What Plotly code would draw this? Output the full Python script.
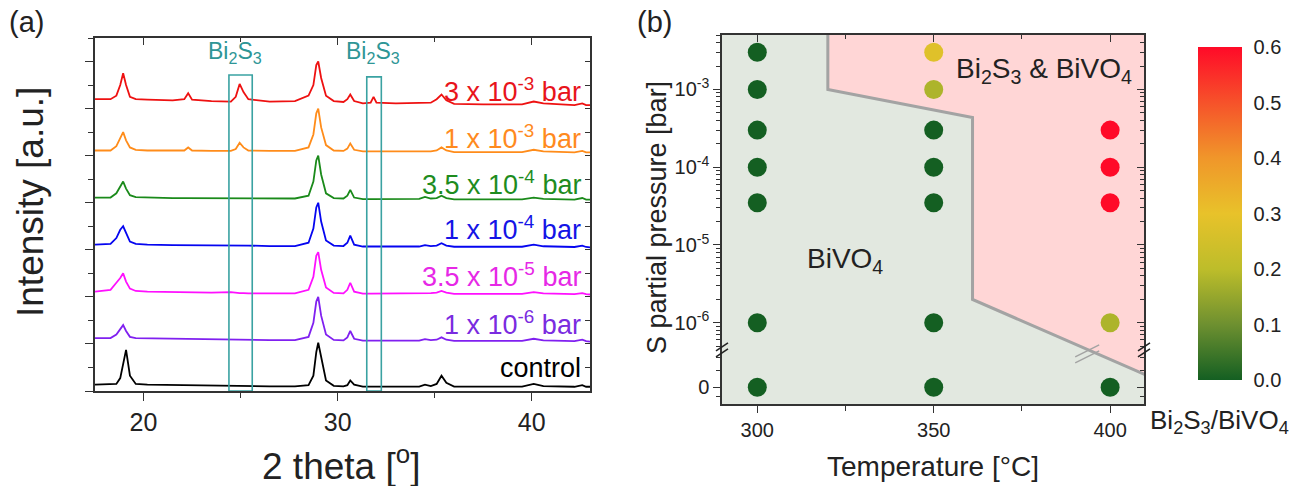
import math
import plotly.graph_objects as go

# ---------------- Panel (a): XRD patterns ----------------
two_theta = [17.5, 18.3, 18.6, 18.8, 18.95, 19.1, 19.3, 19.6, 20.2, 21.5, 22.1, 22.3, 22.5,
             23.5, 24.5, 24.75, 24.95, 25.15, 25.4, 26.5, 27.8, 28.5, 28.75, 28.9, 29.0,
             29.15, 29.4, 29.8, 30.3, 30.5, 30.65, 30.85, 31.3, 31.7, 31.85, 32.0, 33.0,
             34.2, 34.5, 34.8, 35.1, 35.35, 35.6, 36.0, 37.5, 39.5, 40.1, 40.6, 42.2,
             42.6, 42.8, 43.0]

int_3e3 = [0.3, 0.3, 0.45, 0.9, 1.4, 0.9, 0.4, 0.3, 0.28, 0.25, 0.3, 0.55, 0.28, 0.22, 0.2,
           0.4, 0.95, 0.6, 0.3, 0.2, 0.22, 0.45, 0.9, 1.75, 1.9, 1.2, 0.45, 0.22, 0.18, 0.3,
           0.5, 0.22, 0.12, 0.15, 0.4, 0.15, 0.12, 0.12, 0.14, 0.15, 0.3, 0.5, 0.25, 0.1,
           0.08, 0.08, 0.2, 0.12, 0.05, 0.12, 0.05, 0.05]
int_1e3 = [0.12, 0.12, 0.3, 0.65, 0.9, 0.55, 0.25, 0.15, 0.12, 0.12, 0.12, 0.25, 0.12, 0.1,
           0.1, 0.18, 0.45, 0.25, 0.12, 0.1, 0.1, 0.25, 0.8, 1.7, 1.9, 1.1, 0.35, 0.12, 0.1,
           0.2, 0.42, 0.15, 0.08, 0.08, 0.08, 0.08, 0.06, 0.06, 0.07, 0.08, 0.12, 0.25, 0.12,
           0.05, 0.05, 0.05, 0.15, 0.08, 0.04, 0.1, 0.04, 0.04]
int_35e4 = [0.12, 0.12, 0.3, 0.6, 0.8, 0.5, 0.22, 0.14, 0.12, 0.1, 0.1, 0.1, 0.1, 0.1, 0.1,
            0.1, 0.1, 0.1, 0.1, 0.08, 0.08, 0.2, 0.8, 1.7, 1.9, 1.1, 0.3, 0.1, 0.08, 0.2,
            0.45, 0.12, 0.05, 0.05, 0.05, 0.05, 0.05, 0.06, 0.15, 0.08, 0.1, 0.2, 0.1, 0.04,
            0.04, 0.04, 0.12, 0.06, 0.03, 0.1, 0.03, 0.03]
int_1e4 = [0.12, 0.15, 0.4, 0.75, 0.9, 0.6, 0.25, 0.15, 0.12, 0.1, 0.1, 0.1, 0.1, 0.08, 0.08,
           0.08, 0.08, 0.08, 0.08, 0.06, 0.06, 0.2, 0.8, 1.7, 1.9, 1.1, 0.3, 0.08, 0.06, 0.2,
           0.5, 0.12, 0.04, 0.04, 0.04, 0.04, 0.03, 0.04, 0.1, 0.06, 0.08, 0.18, 0.08, 0.03,
           0.03, 0.03, 0.12, 0.05, 0.02, 0.08, 0.02, 0.0]
int_35e5 = [0.12, 0.2, 0.5, 0.7, 0.9, 0.55, 0.25, 0.15, 0.12, 0.1, 0.1, 0.1, 0.1, 0.08, 0.1,
            0.07, 0.06, 0.06, 0.05, 0.05, 0.05, 0.2, 0.75, 1.65, 1.8, 1.05, 0.3, 0.07, 0.05,
            0.2, 0.5, 0.12, 0.04, 0.04, 0.04, 0.04, 0.03, 0.04, 0.06, 0.06, 0.08, 0.15, 0.08,
            0.03, 0.03, 0.03, 0.1, 0.05, 0.02, 0.06, 0.02, 0.0]
int_1e6 = [0.15, 0.15, 0.3, 0.5, 0.7, 0.45, 0.2, 0.15, 0.14, 0.13, 0.13, 0.12, 0.12, 0.1,
           0.08, 0.08, 0.08, 0.07, 0.07, 0.06, 0.06, 0.2, 0.8, 1.7, 1.9, 1.1, 0.3, 0.07, 0.05,
           0.18, 0.45, 0.12, 0.04, 0.04, 0.04, 0.04, 0.03, 0.04, 0.1, 0.06, 0.08, 0.18, 0.08,
           0.03, 0.03, 0.03, 0.12, 0.05, 0.02, 0.08, 0.02, 0.0]
int_control = [0.12, 0.12, 0.15, 0.4, 1.0, 1.6, 0.5, 0.15, 0.12, 0.1, 0.1, 0.1, 0.1, 0.08,
               0.06, 0.06, 0.06, 0.06, 0.06, 0.05, 0.05, 0.1, 0.5, 1.5, 1.9, 1.3, 0.3, 0.07,
               0.05, 0.1, 0.3, 0.12, 0.04, 0.04, 0.04, 0.04, 0.03, 0.04, 0.12, 0.06, 0.15, 0.5,
               0.2, 0.04, 0.04, 0.04, 0.15, 0.06, 0.03, 0.1, 0.03, 0.03]

series_labels = ["3 x 10<sup>-3</sup> bar", "1 x 10<sup>-3</sup> bar", "3.5 x 10<sup>-4</sup> bar",
                 "1 x 10<sup>-4</sup> bar", "3.5 x 10<sup>-5</sup> bar", "1 x 10<sup>-6</sup> bar",
                 "control"]
series_data = [int_3e3, int_1e3, int_35e4, int_1e4, int_35e5, int_1e6, int_control]
series_offsets = [12.1, 10.1, 8.1, 6.1, 4.1, 2.1, 0.15]
series_label_y = [12.8, 10.8, 8.84, 6.93, 4.93, 2.89, 0.98]
line_colors = ["#EE1111", "#FF8C1A", "#1A8A1A", "#0505F0", "#FF10FF", "#8020F0", "#000000"]
label_colors = ["#E8141B", "#FF8A1E", "#1E8C1E", "#1414E6", "#E628E6", "#7A2BE0", "#000000"]

bi2s3_boxes = [(24.4, 25.6, 13.43), (31.5, 32.25, 13.35)]   # x0, x1, top
bi2s3_label_x = [24.7, 31.83]
bi2s3_label_y = 14.4

# ---------------- Panel (b): phase map ----------------
temps = [300, 300, 300, 300, 300, 300, 300,
         350, 350, 350, 350, 350, 350, 350,
         400, 400, 400, 400, 400]
pressures = [3e-3, 1e-3, 3e-4, 1e-4, 3.5e-5, 1e-6, 0,
             3e-3, 1e-3, 3e-4, 1e-4, 3.5e-5, 1e-6, 0,
             3e-4, 1e-4, 3.5e-5, 1e-6, 0]
ratio = [0, 0, 0, 0, 0, 0, 0,
         0.28, 0.18, 0, 0, 0, 0, 0,
         0.6, 0.6, 0.6, 0.18, 0]

ZERO_POS = -6.83      # axis position used for p = 0 (below the axis break)
BREAK_POS = -6.35     # location of the axis break
Y2_RANGE = [-7.045, -2.30]
X2_RANGE = [290, 409.6]

def pos(p):
    return math.log10(p) if p > 0 else ZERO_POS

boundary_T = [320, 320, 361, 361, 410]
boundary_y = [-2.30, -3.0, -3.36, -5.70, -6.67]

colorscale = [[0.0, "#145F22"], [0.167, "#6E9030"], [0.333, "#BDBD2A"], [0.5, "#E8C22A"],
              [0.667, "#F0962A"], [0.833, "#F6522A"], [1.0, "#FF0A28"]]

W, H = 1305, 486
FONT = "Arial, Liberation Sans, sans-serif"

fig = go.Figure()

for vals, off, col in zip(series_data, series_offsets, line_colors):
    fig.add_trace(go.Scatter(x=two_theta, y=[v + off for v in vals], mode="lines",
                             line=dict(color=col, width=1.8), xaxis="x", yaxis="y",
                             showlegend=False, hoverinfo="skip"))
# dummy traces for mirrored (inside-tick) axes
fig.add_trace(go.Scatter(x=[None], y=[None], xaxis="x3", yaxis="y", showlegend=False))
fig.add_trace(go.Scatter(x=[None], y=[None], xaxis="x", yaxis="y3", showlegend=False))
fig.add_trace(go.Scatter(x=[None], y=[None], xaxis="x4", yaxis="y2", showlegend=False))
fig.add_trace(go.Scatter(x=[None], y=[None], xaxis="x2", yaxis="y4", showlegend=False))

# pink two-phase region
fig.add_trace(go.Scatter(x=boundary_T + [boundary_T[-1], boundary_T[0]],
                         y=boundary_y + [Y2_RANGE[1] + 0.1, Y2_RANGE[1] + 0.1],
                         fill="toself", fillcolor="#FFD6D6", mode="none",
                         xaxis="x2", yaxis="y2", showlegend=False, hoverinfo="skip"))
fig.add_trace(go.Scatter(x=boundary_T, y=boundary_y, mode="lines",
                         line=dict(color="#A3A3A3", width=3),
                         xaxis="x2", yaxis="y2", showlegend=False, hoverinfo="skip"))
fig.add_trace(go.Scatter(
    x=temps, y=[pos(p) for p in pressures], mode="markers", xaxis="x2", yaxis="y2",
    showlegend=False,
    marker=dict(size=19, color=ratio, colorscale=colorscale, cmin=0, cmax=0.6,
                line=dict(width=0),
                colorbar=dict(thickness=44, len=353, lenmode="pixels",
                              x=1188 / W, xanchor="left", y=1 - 213.5 / H, yanchor="middle",
                              outlinewidth=0, tickvals=[0, 0.1, 0.2, 0.3, 0.4, 0.5, 0.6],
                              ticktext=["0.0", "0.1", "0.2", "0.3", "0.4", "0.5", "0.6"],
                              ticks="outside", ticklen=8, tickcolor="rgba(0,0,0,0)",
                              tickfont=dict(size=20, color="#222", family=FONT)))))

axis_common = dict(showgrid=False, zeroline=False, linecolor="#333", linewidth=1.5,
                   tickcolor="#333", tickwidth=1.2)

dom_x1 = [95 / W, 590 / W]
dom_y1 = [1 - 391 / H, 1 - 38 / H]
dom_x2 = [722 / W, 1144 / W]
dom_y2 = [1 - 404 / H, 1 - 35 / H]

minor_logs = []
for d in range(-7, -2):
    for k in range(2, 10):
        v = d + math.log10(k)
        if BREAK_POS < v < Y2_RANGE[1]:
            minor_logs.append(v)
minor_logs += [ZERO_POS + 0.22, ZERO_POS + 0.38, ZERO_POS - 0.12]

y2_ticks = dict(tickvals=[-3, -4, -5, -6, ZERO_POS],
                ticktext=["10<sup>-3</sup>", "10<sup>-4</sup>", "10<sup>-5</sup>",
                          "10<sup>-6</sup>", "0"])

fig.update_layout(
    width=W, height=H, autosize=False,
    margin=dict(l=0, r=0, t=0, b=0),
    paper_bgcolor="white", plot_bgcolor="rgba(0,0,0,0)",
    font=dict(family=FONT, color="#222"),
    xaxis=dict(domain=dom_x1, anchor="y", range=[17.5, 43], tickvals=[20, 30, 40],
               ticks="outside", ticklen=8, showline=True,
               tickfont=dict(size=25, color="#222"),
               minor=dict(tickvals=[25, 35], ticks="outside", ticklen=5, tickcolor="#333"),
               **axis_common),
    yaxis=dict(domain=dom_y1, anchor="x", range=[0, 15], tickvals=list(range(0, 16, 2)),
               ticks="outside", ticklen=8, showline=True, showticklabels=False,
               minor=dict(tickvals=list(range(1, 16, 2)), ticks="outside", ticklen=5,
                          tickcolor="#333"),
               **axis_common),
    xaxis3=dict(overlaying="x", side="top", anchor="y", range=[17.5, 43],
                tickvals=[20, 30, 40], ticks="inside", ticklen=7, showline=True,
                showticklabels=False,
                minor=dict(tickvals=[25, 35], ticks="inside", ticklen=4, tickcolor="#333"),
                **axis_common),
    yaxis3=dict(overlaying="y", side="right", anchor="x", range=[0, 15],
                tickvals=list(range(0, 16)), ticks="inside", ticklen=5, showline=True,
                showticklabels=False, **axis_common),
    xaxis2=dict(domain=dom_x2, anchor="y2", range=X2_RANGE, tickvals=[300, 350, 400],
                ticks="outside", ticklen=7, showline=True,
                tickfont=dict(size=20, color="#222"),
                minor=dict(tickvals=[325, 375], ticks="outside", ticklen=5, tickcolor="#333"),
                **axis_common),
    yaxis2=dict(domain=dom_y2, anchor="x2", range=Y2_RANGE, ticks="outside", ticklen=7,
                showline=True, tickfont=dict(size=20, color="#222"),
                minor=dict(tickvals=minor_logs, ticks="outside", ticklen=4, tickcolor="#333"),
                **y2_ticks, **axis_common),
    xaxis4=dict(overlaying="x2", side="top", anchor="y2", range=X2_RANGE,
                tickvals=[300, 350, 400], ticks="inside", ticklen=7, showline=True,
                showticklabels=False,
                minor=dict(tickvals=[325, 375], ticks="inside", ticklen=4, tickcolor="#333"),
                **axis_common),
    yaxis4=dict(overlaying="y2", side="right", anchor="x2", range=Y2_RANGE,
                ticks="inside", ticklen=7, showline=True, showticklabels=False,
                minor=dict(tickvals=minor_logs, ticks="inside", ticklen=4, tickcolor="#333"),
                **y2_ticks, **axis_common),
)

shapes = []
# background of phase map
shapes.append(dict(type="rect", xref="x2 domain", yref="y2 domain", x0=0, x1=1, y0=0, y1=1,
                   fillcolor="#E2E8E0", line=dict(width=0), layer="below"))
# Bi2S3 boxes
for x0, x1, top in bi2s3_boxes:
    shapes.append(dict(type="rect", xref="x", yref="y", x0=x0, x1=x1, y0=0, y1=top,
                       line=dict(color="#3AA2A2", width=1.6), fillcolor="rgba(0,0,0,0)"))
# axis break marks
for xd in [0, 1]:
    for dy in [-3, 3]:
        shapes.append(dict(type="line", xref="x2 domain", yref="y2", xsizemode="pixel",
                           ysizemode="pixel", xanchor=xd, yanchor=BREAK_POS,
                           x0=-6, x1=6, y0=dy - 4, y1=dy + 4,
                           line=dict(color="#222", width=1.5)))
for dy in [-3, 3]:
    shapes.append(dict(type="line", xref="x2", yref="y2", xsizemode="pixel",
                       ysizemode="pixel", xanchor=393.5, yanchor=-6.40,
                       x0=-12, x1=12, y0=dy - 6, y1=dy + 6,
                       line=dict(color="#A3A3A3", width=1.5)))
fig.update_layout(shapes=shapes)

ann = []
for lab, ly, col in zip(series_labels, series_label_y, label_colors):
    ann.append(dict(x=42.65, y=ly, xref="x", yref="y", text=lab, showarrow=False,
                    xanchor="right", yanchor="middle", font=dict(size=27, color=col)))
for bx in bi2s3_label_x:
    ann.append(dict(x=bx, y=bi2s3_label_y, xref="x", yref="y",
                    text="Bi<sub>2</sub>S<sub>3</sub>", showarrow=False,
                    font=dict(size=23, color="#2E9696")))
ann += [
    dict(x=7 / W, y=1 - 22 / H, xref="paper", yref="paper", text="(a)", showarrow=False,
         xanchor="left", yanchor="middle", font=dict(size=29, color="#222")),
    dict(x=635 / W, y=1 - 22 / H, xref="paper", yref="paper", text="(b)", showarrow=False,
         xanchor="left", yanchor="middle", font=dict(size=29, color="#222")),
    dict(x=30 / W, y=1 - 202 / H, xref="paper", yref="paper", text="Intensity [a.u.]",
         showarrow=False, textangle=-90, xanchor="center", yanchor="middle",
         font=dict(size=37, color="#222")),
    dict(x=341 / W, y=1 - 463 / H, xref="paper", yref="paper",
         text="2 theta [<sup>o</sup>]", showarrow=False, xanchor="center", yanchor="middle",
         font=dict(size=37, color="#222")),
    dict(x=657 / W, y=1 - 218 / H, xref="paper", yref="paper",
         text="S partial pressure [bar]", showarrow=False, textangle=-90,
         xanchor="center", yanchor="middle", font=dict(size=27, color="#222")),
    dict(x=933 / W, y=1 - 466 / H, xref="paper", yref="paper", text="Temperature [°C]",
         showarrow=False, xanchor="center", yanchor="middle",
         font=dict(size=28, color="#222")),
    dict(x=1219 / W, y=1 - 421 / H, xref="paper", yref="paper",
         text="Bi<sub>2</sub>S<sub>3</sub>/BiVO<sub>4</sub>", showarrow=False,
         xanchor="center", yanchor="middle", font=dict(size=26, color="#222")),
    dict(x=381.3, y=-2.76, xref="x2", yref="y2",
         text="Bi<sub>2</sub>S<sub>3</sub> &amp; BiVO<sub>4</sub>", showarrow=False,
         xanchor="center", yanchor="middle", font=dict(size=28, color="#222")),
    dict(x=324.9, y=-5.2, xref="x2", yref="y2", text="BiVO<sub>4</sub>", showarrow=False,
         xanchor="center", yanchor="middle", font=dict(size=28, color="#222")),
]
fig.update_layout(annotations=ann)

fig.write_html("out.html", config={"displayModeBar": False},
               post_script="document.body.style.margin='0px';document.body.style.padding='0px';")
